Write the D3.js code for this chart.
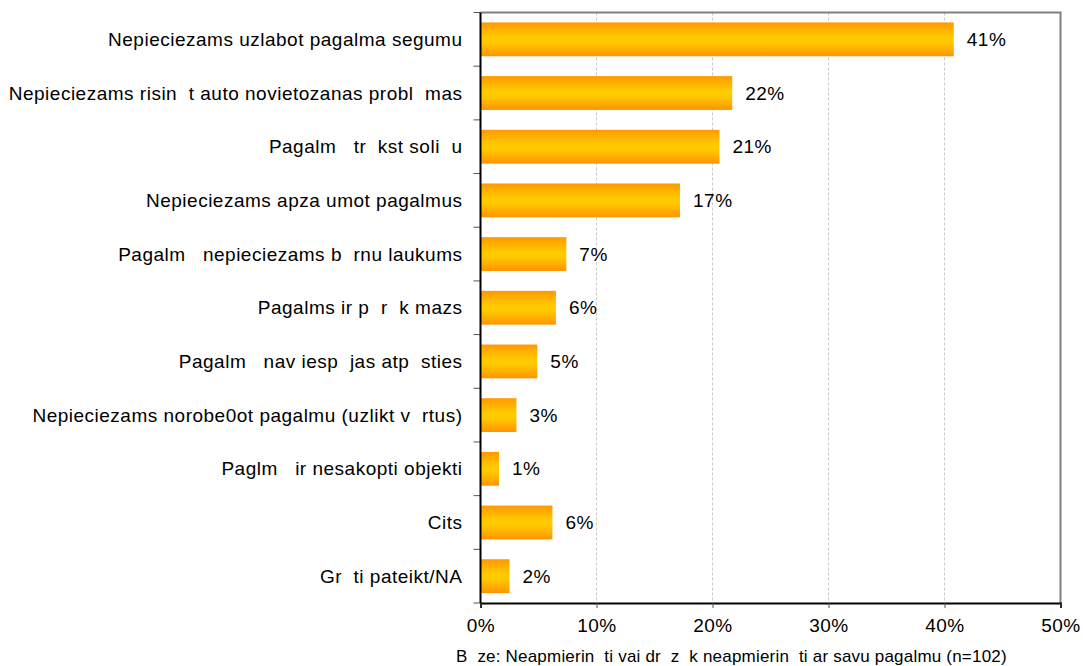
<!DOCTYPE html>
<html>
<head>
<meta charset="utf-8">
<script src="https://cdn.jsdelivr.net/npm/d3@7"></script>
<style>
  body { margin: 0; background: #fff; }
  text { font-family: "Liberation Sans", Arial, sans-serif; fill: #000; white-space: pre; }
</style>
</head>
<body>
<svg id="chart" width="1083" height="666"></svg>
<script>
const categories = [
  "Nepieciezams uzlabot pagalma segumu",
  "Nepieciezams risin  t auto novietozanas probl  mas",
  "Pagalm   tr  kst soli  u",
  "Nepieciezams apza umot pagalmus",
  "Pagalm   nepieciezams b  rnu laukums",
  "Pagalms ir p  r  k mazs",
  "Pagalm   nav iesp  jas atp  sties",
  "Nepieciezams norobe0ot pagalmu (uzlikt v  rtus)",
  "Paglm   ir nesakopti objekti",
  "Cits",
  "Gr  ti pateikt/NA"
];
const values = [40.8, 21.7, 20.6, 17.2, 7.4, 6.5, 4.9, 3.1, 1.6, 6.2, 2.5];
const valueLabels = ["41%", "22%", "21%", "17%", "7%", "6%", "5%", "3%", "1%", "6%", "2%"];
const xTicks = [0, 10, 20, 30, 40, 50];
const footer = "B  ze: Neapmierin  ti vai dr  z  k neapmierin  ti ar savu pagalmu (n=102)";

const svg = d3.select('#chart');
const plotL = 480.5, plotR = 1060.5, plotT = 12.5, plotB = 603;

const x = d3.scaleLinear().domain([0, 50]).range([plotL, plotR]);
const y = d3.scaleBand().domain(categories).range([plotT, plotB])
  .paddingInner(0.37).paddingOuter(0.185);

// gradient for bars
const grad = svg.append('defs').append('linearGradient')
  .attr('id', 'barGrad').attr('x1', 0).attr('y1', 0).attr('x2', 0).attr('y2', 1);
grad.append('stop').attr('offset', '0%').attr('stop-color', '#ff9900');
grad.append('stop').attr('offset', '45%').attr('stop-color', '#ffcc00');
grad.append('stop').attr('offset', '60%').attr('stop-color', '#ffc800');
grad.append('stop').attr('offset', '100%').attr('stop-color', '#ff9400');

// gridlines
svg.append('g')
  .selectAll('line')
  .data(xTicks.slice(1, -1))
  .enter().append('line')
  .attr('x1', d => x(d)).attr('x2', d => x(d))
  .attr('y1', plotT).attr('y2', plotB)
  .style('stroke', '#c8c8c8')
  .style('stroke-dasharray', '3,2')
  .style('stroke-width', 1);

// top and right border
svg.append('path')
  .attr('d', `M${plotL},${plotT}H${plotR}V${plotB}`)
  .style('fill', 'none')
  .style('stroke', '#808080')
  .style('stroke-width', 2);

// bars
svg.append('g')
  .selectAll('rect')
  .data(values)
  .enter().append('rect')
  .attr('x', x(0))
  .attr('y', (d, i) => y(categories[i]))
  .attr('width', d => x(d) - x(0))
  .attr('height', y.bandwidth())
  .style('fill', 'url(#barGrad)');

// value labels
svg.append('g')
  .selectAll('text')
  .data(values)
  .enter().append('text')
  .attr('x', d => x(d) + 13)
  .attr('y', (d, i) => y(categories[i]) + y.bandwidth() / 2)
  .attr('dy', '0.35em')
  .style('font-size', '19px')
  .style('letter-spacing', '0.5px')
  .text((d, i) => valueLabels[i]);

// category labels
svg.append('g')
  .selectAll('text')
  .data(categories)
  .enter().append('text')
  .attr('x', plotL - 18)
  .attr('y', d => y(d) + y.bandwidth() / 2)
  .attr('dy', '0.35em')
  .attr('text-anchor', 'end')
  .style('font-size', '19px')
  .style('letter-spacing', '0.5px')
  .text(d => d);

// y-axis ticks at band boundaries
svg.append('g')
  .selectAll('line')
  .data(d3.range(categories.length + 1))
  .enter().append('line')
  .attr('x1', plotL - 7).attr('x2', plotL)
  .attr('y1', i => plotT + i * (plotB - plotT) / categories.length)
  .attr('y2', i => plotT + i * (plotB - plotT) / categories.length)
  .style('stroke', '#555')
  .style('stroke-width', 1);

// x axis
const xAxis = svg.append('g')
  .attr('transform', `translate(0,${plotB})`)
  .call(d3.axisBottom(x).tickValues(xTicks).tickFormat(d => d + '%').tickSize(5).tickPadding(11));
xAxis.select('.domain').style('stroke', '#000').style('stroke-width', 2);
xAxis.selectAll('.tick line').style('stroke', '#555');
xAxis.selectAll('text')
  .style('font-size', '19px')
  .style('letter-spacing', '0.5px')
  .style('font-family', '"Liberation Sans", Arial, sans-serif');

// left axis line
svg.append('line')
  .attr('x1', plotL).attr('x2', plotL)
  .attr('y1', plotT).attr('y2', plotB)
  .style('stroke', '#000')
  .style('stroke-width', 2);

// footer
svg.append('text')
  .attr('x', 456)
  .attr('y', 662)
  .style('font-size', '17px')
  .style('letter-spacing', '0.2px')
  .text(footer);
</script>
</body>
</html>
